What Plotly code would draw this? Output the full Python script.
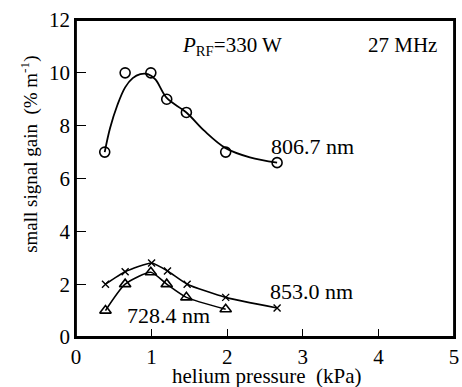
import plotly.graph_objects as go

p_circ = [0.38, 0.65, 0.99, 1.2, 1.46, 1.98, 2.66]
g_806 = [7.0, 10.0, 10.0, 9.0, 8.5, 7.0, 6.6]
fit_x = [0.38, 0.45, 0.55, 0.65, 0.75, 0.85, 0.95, 1.05, 1.2, 1.46, 1.7, 1.98, 2.3, 2.66]
fit_y = [7.0, 7.9, 8.8, 9.45, 9.8, 9.95, 9.95, 9.75, 9.05, 8.5, 7.8, 7.15, 6.8, 6.6]

p_tri = [0.39, 0.65, 0.99, 1.2, 1.46, 1.98]
g_728 = [1.0, 2.0, 2.45, 2.0, 1.5, 1.05]

p_x = [0.39, 0.65, 1.0, 1.21, 1.47, 1.98, 2.66]
g_853 = [2.0, 2.47, 2.8, 2.5, 2.0, 1.5, 1.1]

xticks = [0, 1, 2, 3, 4, 5]
yticks = [0, 2, 4, 6, 8, 10, 12]

FONT = "Liberation Serif"
fig = go.Figure()
fig.add_trace(go.Scatter(x=fit_x, y=fit_y, mode="lines", line=dict(color="black", width=1.8, shape="spline", smoothing=1.0), showlegend=False))
fig.add_trace(go.Scatter(x=p_circ, y=g_806, mode="markers",
                         marker=dict(symbol="circle-open", size=10, color="black", line=dict(width=1.6)), showlegend=False))
fig.add_trace(go.Scatter(x=p_tri, y=g_728, mode="lines+markers",
                         line=dict(color="black", width=1.6, shape="spline", smoothing=0.6),
                         marker=dict(symbol="triangle-up-open", size=10, color="black", line=dict(width=1.6)), showlegend=False))
fig.add_trace(go.Scatter(x=p_x, y=g_853, mode="lines+markers",
                         line=dict(color="black", width=1.6, shape="spline", smoothing=0.5),
                         marker=dict(symbol="x-thin-open", size=7, color="black", line=dict(width=1.4, color="black")), showlegend=False))

ann = [
    dict(x=2.07, y=11.0, text="<i>P</i><sub>RF</sub>=330 W", size=21),
    dict(x=4.32, y=11.05, text="27 MHz", size=21),
    dict(x=3.125, y=7.2, text="806.7 nm", size=22),
    dict(x=3.11, y=1.74, text="853.0 nm", size=22),
    dict(x=1.22, y=0.83, text="728.4 nm", size=22),
]
for a in ann:
    fig.add_annotation(x=a["x"], y=a["y"], text=a["text"], showarrow=False, xref="x", yref="y",
                       xanchor="center", yanchor="middle",
                       font=dict(family=FONT, size=a["size"], color="black"))

fig.add_annotation(x=-0.125, y=0.577, xref="paper", yref="paper", text="small signal gain  (% m<sup>-1</sup>)",
                   textangle=-90, showarrow=False, xanchor="center", yanchor="middle",
                   font=dict(family=FONT, size=19, color="black"))
fig.add_annotation(x=0.505, y=-0.122, xref="paper", yref="paper", text="helium pressure  (kPa)",
                   showarrow=False, xanchor="center", yanchor="middle",
                   font=dict(family=FONT, size=21, color="black"))

fig.add_shape(type="rect", xref="paper", yref="paper", x0=0, y0=0, x1=1, y1=1,
              line=dict(color="black", width=1.8), layer="above")

fig.update_xaxes(range=[0, 5], tickvals=xticks, ticktext=[str(t) for t in xticks], ticks="inside", ticklen=8,
                 tickwidth=1.3, tickcolor="black", showline=True, linecolor="black", linewidth=1.6, mirror=True,
                 ticklabeloverflow="allow",
                 showgrid=False, zeroline=False, tickfont=dict(family=FONT, size=21, color="black"))
fig.update_yaxes(range=[0, 12], tickvals=yticks, ticktext=[str(t) for t in yticks], ticks="inside", ticklen=10,
                 tickwidth=1.3, tickcolor="black", showline=True, linecolor="black", linewidth=1.6, mirror=True,
                 ticklabeloverflow="allow",
                 showgrid=False, zeroline=False, tickfont=dict(family=FONT, size=21, color="black"))
fig.update_layout(width=462, height=387, margin=dict(l=76, r=3, t=20, b=50),
                  plot_bgcolor="white", paper_bgcolor="white", showlegend=False)
fig.write_html("out.html")
